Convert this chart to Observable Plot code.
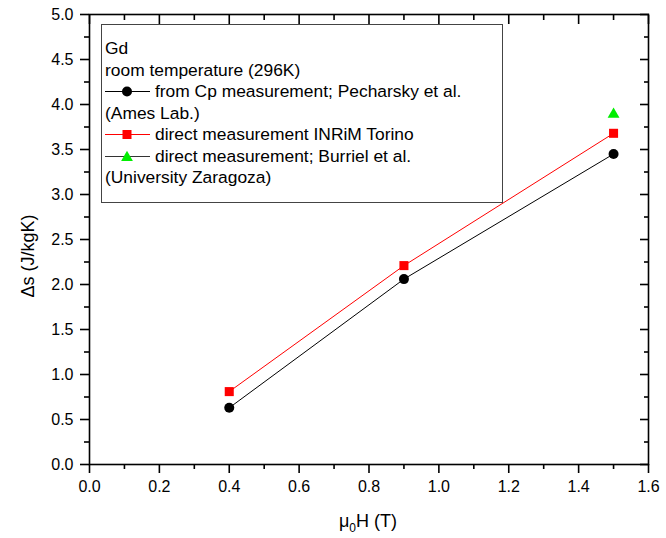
<!DOCTYPE html>
<html>
<head>
<meta charset="utf-8">
<script src="https://cdn.jsdelivr.net/npm/d3@7"></script>
<script src="https://cdn.jsdelivr.net/npm/@observablehq/plot@0.6"></script>
<style>
  html, body { margin: 0; padding: 0; background: #fff; }
  #wrap { position: relative; width: 666px; height: 538px; font-family: "Liberation Sans", Arial, sans-serif; color: #000; }
  #legend { position: absolute; left: 101px; top: 24px; width: 402px; height: 179px; box-sizing: border-box;
            border: 1.5px solid #444; background: #fff; padding: 13px 0 0 3px; font-size: 17.4px; }
  #legend .row { height: 21.5px; line-height: 21.5px; white-space: nowrap; display: flex; align-items: center; }
  #legend svg { flex: none; margin-right: 5px; }
  #xtitle { position: absolute; left: 268px; width: 200px; top: 512px; text-align: center; font-size: 18px; line-height: 18px; white-space: nowrap; }
  #xtitle sub { font-size: 12px; vertical-align: -5px; line-height: 0; }
  #ytitle { position: absolute; left: 28px; top: 256px; width: 0; height: 0; }
  #ytitle span { position: absolute; left: 0; top: 0; transform: translate(-50%, -50%) rotate(-90deg); white-space: nowrap; font-size: 18px; line-height: 18px; }
</style>
</head>
<body>
<div id="wrap"></div>
<script>
// ---- data ----
const fieldT = [0.4, 0.9, 1.5];                 // μ0H (T)
const dsPecharsky = [0.63, 2.06, 3.45];         // from Cp measurement (Ames Lab.)
const dsInrim = [0.81, 2.21, 3.68];             // direct measurement INRiM Torino
const fieldBurriel = [1.5];
const dsBurriel = [3.89];                       // direct measurement Burriel et al.

const xMajor = [0.0, 0.2, 0.4, 0.6, 0.8, 1.0, 1.2, 1.4, 1.6];
const xMinor = [0.1, 0.3, 0.5, 0.7, 0.9, 1.1, 1.3, 1.5];
const yMajor = [0.0, 0.5, 1.0, 1.5, 2.0, 2.5, 3.0, 3.5, 4.0, 4.5, 5.0];
const yMinor = [0.25, 0.75, 1.25, 1.75, 2.25, 2.75, 3.25, 3.75, 4.25, 4.75];

const yTitle = "Δs (J/kgK)";
const legendLines = [
  {text: "Gd"},
  {text: "room temperature (296K)"},
  {text: "from Cp measurement; Pecharsky et al.", line: "#000", symbol: "circle", fill: "#000"},
  {text: "(Ames Lab.)"},
  {text: "direct measurement INRiM Torino", line: "#ff0000", symbol: "square", fill: "#ff0000"},
  {text: "direct measurement; Burriel et al.", line: "#333", symbol: "triangle", fill: "#00ee00"},
  {text: "(University Zaragoza)"}
];

const cp = fieldT.map((x, i) => ({x, y: dsPecharsky[i]}));
const inrim = fieldT.map((x, i) => ({x, y: dsInrim[i]}));
const burriel = fieldBurriel.map((x, i) => ({x, y: dsBurriel[i]}));

const fmt = d3.format(".1f");
const sw = 1.6;

const chart = Plot.plot({
  width: 666,
  height: 538,
  marginLeft: 89,
  marginRight: 18,
  marginTop: 14,
  marginBottom: 74,
  style: {fontFamily: "'Liberation Sans', Arial, sans-serif", fontSize: "16px", color: "#000", background: "#fff"},
  x: {domain: [0, 1.6], label: null},
  y: {domain: [0, 5], label: null},
  marks: [
    Plot.line(inrim, {x: "x", y: "y", stroke: "#ff0000", strokeWidth: 1}),
    Plot.line(cp, {x: "x", y: "y", stroke: "#000", strokeWidth: 1}),
    Plot.dot(cp, {x: "x", y: "y", r: 5, fill: "#000", stroke: null, symbol: "circle"}),
    Plot.dot(inrim, {x: "x", y: "y", r: 5.1, fill: "#ff0000", stroke: null, symbol: "square"}),
    Plot.dot(burriel, {x: "x", y: "y", r: 4.4, fill: "#00ee00", stroke: null, symbol: "triangle"}),
    Plot.frame({stroke: "#000", strokeWidth: sw}),
    // bottom axis
    Plot.axisX(xMajor, {anchor: "bottom", tickSize: 9, tickPadding: 7, tickFormat: fmt, label: null, strokeWidth: sw, fontSize: 16}),
    Plot.axisX(xMinor, {anchor: "bottom", tickSize: 5, text: null, label: null, strokeWidth: sw}),
    // top axis (ticks inward)
    Plot.axisX(xMajor, {anchor: "top", tickSize: 9, dy: 9, text: null, label: null, strokeWidth: sw}),
    Plot.axisX(xMinor, {anchor: "top", tickSize: 5, dy: 5, text: null, label: null, strokeWidth: sw}),
    // left axis
    Plot.axisY(yMajor, {anchor: "left", tickSize: 9, tickPadding: 7, tickFormat: fmt, label: null, strokeWidth: sw, fontSize: 16}),
    Plot.axisY(yMinor, {anchor: "left", tickSize: 5, text: null, label: null, strokeWidth: sw}),
    // right axis (ticks inward)
    Plot.axisY(yMajor, {anchor: "right", tickSize: 9, dx: -9, text: null, label: null, strokeWidth: sw}),
    Plot.axisY(yMinor, {anchor: "right", tickSize: 5, dx: -5, text: null, label: null, strokeWidth: sw})
  ]
});

const wrap = document.getElementById("wrap");
wrap.appendChild(chart);

// y title
const yt = document.createElement("div");
yt.id = "ytitle";
const ys = document.createElement("span");
ys.textContent = yTitle;
yt.appendChild(ys);
wrap.appendChild(yt);

// legend (inside plot area)
const legend = document.createElement("div");
legend.id = "legend";
for (const item of legendLines) {
  const row = document.createElement("div");
  row.className = "row";
  if (item.symbol) {
    const s = d3.create("svg").attr("width", 45).attr("height", 21);
    s.append("line").attr("x1", 0).attr("x2", 45).attr("y1", 10.5).attr("y2", 10.5)
      .attr("stroke", item.line).attr("stroke-width", 1);
    const sym = item.symbol === "circle" ? d3.symbolCircle : item.symbol === "square" ? d3.symbolSquare : d3.symbolTriangle;
    const size = item.symbol === "circle" ? Math.PI * 25 : item.symbol === "square" ? 81 : 60;
    s.append("path").attr("transform", `translate(22,${item.symbol === "triangle" ? 11.5 : 10.5})`)
      .attr("d", d3.symbol(sym, size)()).attr("fill", item.fill);
    row.appendChild(s.node());
  }
  const t = document.createElement("span");
  t.textContent = item.text;
  row.appendChild(t);
  legend.appendChild(row);
}
wrap.appendChild(legend);

// x title with subscript
const xt = document.createElement("div");
xt.id = "xtitle";
xt.innerHTML = "μ<sub>0</sub>H (T)";
wrap.appendChild(xt);
</script>
</body>
</html>
